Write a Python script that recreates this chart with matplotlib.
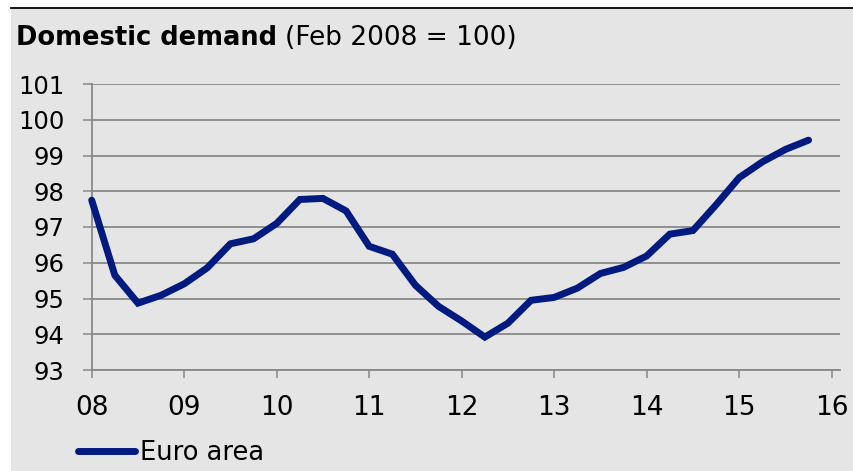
import matplotlib
matplotlib.use('Agg')
import matplotlib.pyplot as plt
from matplotlib.patches import Rectangle

# Quarterly domestic demand index, euro area (Feb 2008 = 100)
quarters = [8 + 0.25 * k for k in range(32)]
euro_area = [
    97.75, 95.65, 94.87, 95.09, 95.41, 95.86, 96.53, 96.67,
    97.10, 97.77, 97.80, 97.45, 96.46, 96.24, 95.37, 94.78,
    94.37, 93.92, 94.31, 94.95, 95.03, 95.29, 95.70, 95.87,
    96.19, 96.80, 96.90, 97.62, 98.38, 98.82, 99.17, 99.43,
]
x_ticks = [8, 9, 10, 11, 12, 13, 14, 15, 16]
x_labels = ['08', '09', '10', '11', '12', '13', '14', '15', '16']
y_ticks = list(range(93, 102))

W, H = 854, 471
bg = '#e5e5e5'
grid_c = '#888888'
navy = '#001a80'

fig = plt.figure(figsize=(W / 100, H / 100), dpi=100)
fig.patch.set_facecolor('white')
# grey panel + black rule on top
fig.patches.append(Rectangle((11 / W, 0), 1 - 11 / W, 1 - 8 / H,
                             transform=fig.transFigure, facecolor=bg,
                             edgecolor='none', zorder=-5))
fig.add_artist(plt.Line2D([11 / W, 1], [1 - 7.5 / H, 1 - 7.5 / H],
                          transform=fig.transFigure, color='black', lw=1.3))

ax = fig.add_axes([91.7 / W, 1 - 370 / H, (840 - 91.7) / W, (370 - 84) / H])
ax.set_facecolor('none')
ax.plot(quarters, euro_area, color=navy, lw=5, solid_capstyle='round',
        solid_joinstyle='miter', label='Euro area', zorder=3, clip_on=False)

ax.set_xlim(8, 16.09)
ax.set_ylim(93, 101)
ax.set_yticks(y_ticks)
ax.set_xticks(x_ticks)
ax.set_xticklabels(x_labels)
for yv in y_ticks:
    ax.axhline(yv, color=grid_c, lw=1.3, zorder=1)
for s in ['top', 'right']:
    ax.spines[s].set_visible(False)
ax.spines['left'].set_color(grid_c)
ax.spines['left'].set_linewidth(1.3)
ax.spines['bottom'].set_color(grid_c)
ax.spines['bottom'].set_linewidth(1.3)
ax.tick_params(axis='y', length=6.5, width=1.1, color=grid_c, pad=13,
               labelsize=17.5, labelcolor='black')
ax.tick_params(axis='x', length=6, width=1.1, color=grid_c, pad=12,
               labelsize=19, labelcolor='black')

# title: bold part then regular part
t1 = fig.text(16 / W, 1 - 45 / H, 'Domestic demand', fontsize=18.5,
              fontweight='bold', va='baseline', ha='left')
fig.canvas.draw()
bb = t1.get_window_extent()
fig.text((bb.x1 + 8) / W, 1 - 45 / H, '(Feb 2008 = 100)', fontsize=19,
         va='baseline', ha='left')

fig.legend(loc='center left', bbox_to_anchor=(78 / W, 1 - 452.7 / H),
           frameon=False, fontsize=18.5, handlelength=2.2, handletextpad=0.2,
           borderpad=0, borderaxespad=0)

fig.savefig('out.png', dpi=100)
